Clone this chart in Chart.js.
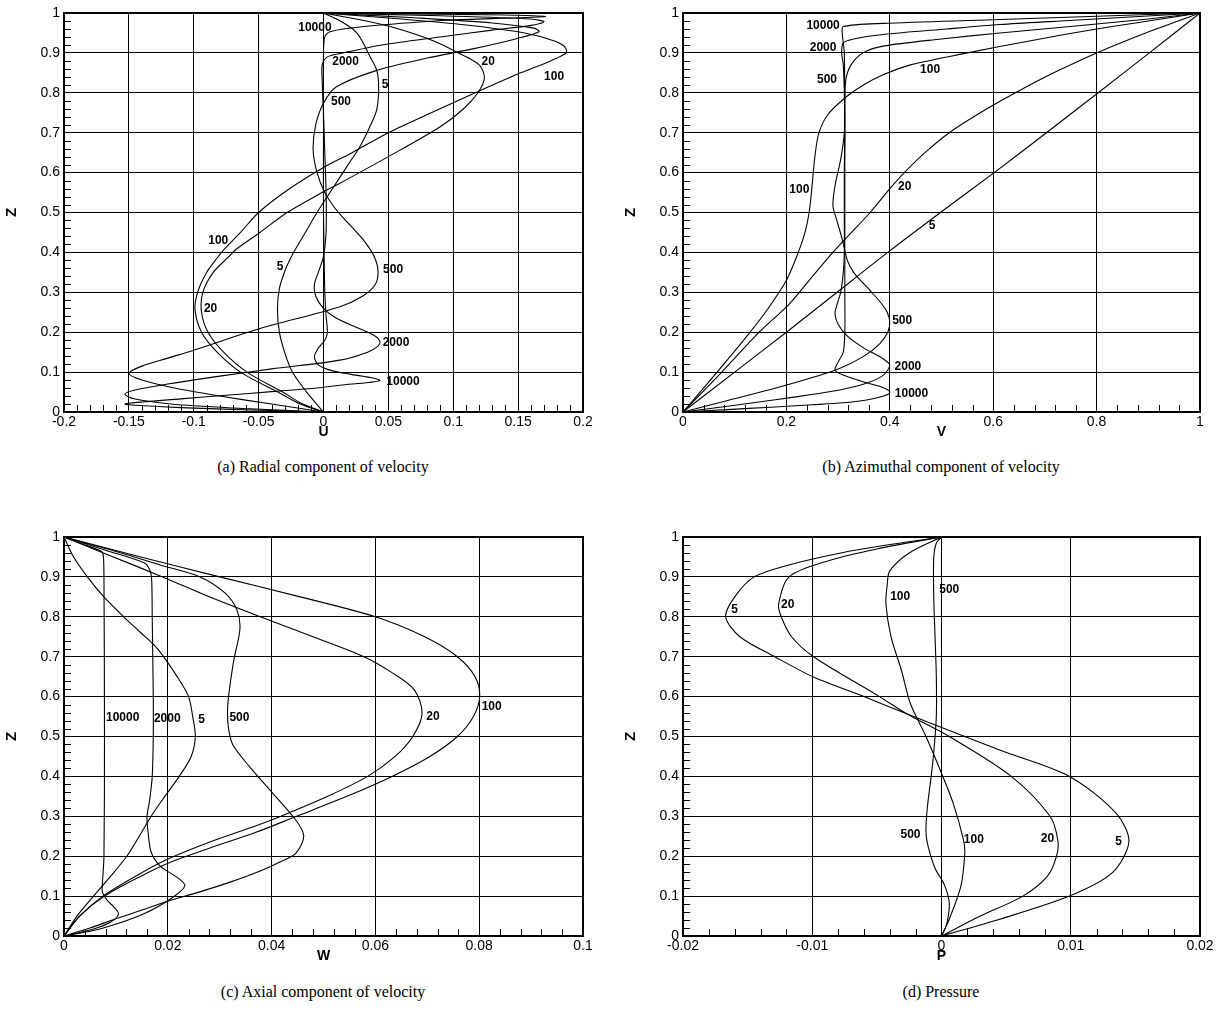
<!DOCTYPE html>
<html>
<head>
<meta charset="utf-8">
<script src="https://cdn.jsdelivr.net/npm/chart.js@4.4.0/dist/chart.umd.min.js"></script>
<style>
body { margin: 0; background: #fff; }
#wrap { position: relative; width: 1224px; height: 1030px; }
canvas { position: absolute; }
.cap { position: absolute; width: 612px; text-align: center; font-family: 'Liberation Serif', 'Times New Roman', serif; font-size: 16px; color: #000; line-height: 20px; }
</style>
</head>
<body>
<div id="wrap">
  <canvas id="chartA" width="612" height="445" style="left:0;top:0"></canvas>
  <canvas id="chartB" width="605" height="445" style="left:619px;top:0"></canvas>
  <canvas id="chartC" width="612" height="445" style="left:0;top:524px"></canvas>
  <canvas id="chartD" width="605" height="445" style="left:619px;top:524px"></canvas>
  <div class="cap" style="left:17px;top:457px">(a) Radial component of velocity</div>
  <div class="cap" style="left:635px;top:457px">(b) Azimuthal component of velocity</div>
  <div class="cap" style="left:17px;top:982px">(c) Axial component of velocity</div>
  <div class="cap" style="left:635px;top:982px">(d) Pressure</div>
</div>
<script>
// tick labels
var zTicks = ['0', '0.1', '0.2', '0.3', '0.4', '0.5', '0.6', '0.7', '0.8', '0.9', '1'];
var uTicks = ['-0.2', '-0.15', '-0.1', '-0.05', '0', '0.05', '0.1', '0.15', '0.2'];
var vTicks = ['0', '0.2', '0.4', '0.6', '0.8', '1'];
var wTicks = ['0', '0.02', '0.04', '0.06', '0.08', '0.1'];
var pTicks = ['-0.02', '-0.01', '0', '0.01', '0.02'];

// (a) radial velocity U, pairs of [U, Z]
var u_re5 = [[0,0],[-0.013,0.05],[-0.024,0.1],[-0.03,0.15],[-0.034,0.2],[-0.0355,0.256],[-0.034,0.31],[-0.029,0.36],[-0.026,0.381],[-0.022,0.406],[-0.014,0.45],[-0.005,0.5],[0.003,0.54],[0.011,0.58],[0.019,0.62],[0.028,0.665],[0.035,0.71],[0.041,0.757],[0.0425,0.815],[0.041,0.857],[0.036,0.89],[0.026,0.949],[0.013,0.98],[0,1]];
var u_re20 = [[0,0],[-0.016,0.02],[-0.03,0.047],[-0.059,0.1],[-0.077,0.15],[-0.089,0.2],[-0.094,0.25],[-0.093,0.3],[-0.085,0.35],[-0.074,0.386],[-0.068,0.406],[-0.049,0.45],[-0.028,0.5],[0,0.552],[0.0102,0.569],[0.05,0.64],[0.09,0.715],[0.108,0.76],[0.119,0.8],[0.124,0.837],[0.12,0.87],[0.104,0.9],[0.085,0.93],[0.058,0.96],[0.033,0.98],[0,1]];
var u_re100 = [[0,0],[-0.018,0.02],[-0.0335,0.047],[-0.064,0.1],[-0.082,0.15],[-0.094,0.2],[-0.099,0.256],[-0.097,0.3],[-0.09,0.35],[-0.082,0.386],[-0.077,0.406],[-0.064,0.45],[-0.05,0.5],[-0.026,0.56],[0,0.613],[0.022,0.65],[0.05,0.7],[0.083,0.75],[0.117,0.8],[0.152,0.85],[0.175,0.88],[0.187,0.9],[0.186,0.915],[0.178,0.93],[0.155,0.95],[0.11,0.97],[0.06,0.985],[0,1]];
var u_re500 = [[0,0],[-0.04,0.02],[-0.08,0.04],[-0.115,0.06],[-0.14,0.08],[-0.15,0.097],[-0.14,0.115],[-0.12,0.135],[-0.1,0.155],[-0.05,0.208],[0.0127,0.264],[0.03,0.29],[0.04,0.32],[0.042,0.355],[0.039,0.39],[0.031,0.43],[0.02,0.47],[0.009,0.51],[0.001,0.55],[-0.005,0.6],[-0.008,0.657],[-0.006,0.72],[0,0.774],[0.01,0.815],[0.04,0.855],[0.08,0.887],[0.115,0.91],[0.148,0.935],[0.166,0.953],[0.162,0.962],[0.13,0.975],[0.07,0.988],[0,1]];
var u_re2000 = [[0,0],[-0.07,0.01],[-0.118,0.02],[-0.146,0.033],[-0.153,0.045],[-0.145,0.055],[-0.12,0.07],[-0.08,0.09],[-0.04,0.108],[0.0127,0.13],[0.034,0.15],[0.042,0.165],[0.0435,0.177],[0.04,0.19],[0.027,0.21],[0.01,0.235],[0,0.26],[-0.006,0.29],[-0.007,0.32],[-0.004,0.35],[0,0.39],[0.002,0.45],[0.002,0.55],[0.001,0.65],[0,0.75],[-0.001,0.83],[-0.001,0.87],[0.003,0.89],[0.015,0.9],[0.045,0.92],[0.09,0.94],[0.13,0.957],[0.16,0.969],[0.17,0.978],[0.16,0.985],[0.09,0.993],[0,1]];
var u_re10000 = [[0,0],[-0.055,0.005],[-0.11,0.011],[-0.145,0.017],[-0.153,0.02],[-0.14,0.025],[-0.11,0.033],[-0.075,0.042],[-0.04,0.051],[-0.005,0.06],[0.0127,0.067],[0.035,0.074],[0.0435,0.079],[0.037,0.086],[0.02,0.095],[0.005,0.105],[-0.004,0.118],[-0.007,0.139],[-0.004,0.16],[0.001,0.18],[0.003,0.2],[0.002,0.24],[0.001,0.3],[0,0.5],[0,0.7],[0,0.9],[0.001,0.94],[0.005,0.953],[0.02,0.962],[0.044,0.97],[0.095,0.982],[0.15,0.988],[0.171,0.991],[0.14,0.995],[0,1]];

// (b) azimuthal velocity V, pairs of [V, Z]
var v_re5 = [[0,0],[0.1,0.1],[0.2,0.2],[0.298,0.3],[0.396,0.4],[0.498,0.5],[0.602,0.6],[0.703,0.7],[0.803,0.8],[0.902,0.9],[1,1]];
var v_re20 = [[0,0],[0.075,0.1],[0.145,0.197],[0.205,0.27],[0.244,0.33],[0.29,0.4],[0.326,0.45],[0.362,0.5],[0.403,0.564],[0.428,0.6],[0.468,0.65],[0.515,0.7],[0.575,0.75],[0.643,0.8],[0.717,0.85],[0.8,0.9],[0.895,0.95],[1,1]];
var v_re100 = [[0,0],[0.066,0.1],[0.128,0.197],[0.165,0.26],[0.2,0.33],[0.223,0.4],[0.236,0.45],[0.244,0.5],[0.249,0.558],[0.252,0.6],[0.256,0.65],[0.263,0.7],[0.28,0.745],[0.316,0.79],[0.35,0.82],[0.387,0.845],[0.44,0.87],[0.55,0.9],[0.67,0.93],[0.8,0.96],[0.9,0.98],[1,1]];
var v_re500 = [[0,0],[0.09,0.03],[0.18,0.06],[0.26,0.09],[0.305,0.11],[0.35,0.14],[0.38,0.17],[0.396,0.2],[0.4,0.225],[0.395,0.25],[0.385,0.27],[0.365,0.3],[0.347,0.325],[0.33,0.35],[0.318,0.38],[0.308,0.433],[0.297,0.483],[0.29,0.517],[0.294,0.567],[0.305,0.633],[0.312,0.7],[0.313,0.78],[0.315,0.833],[0.325,0.87],[0.348,0.9],[0.387,0.917],[0.5,0.935],[0.613,0.95],[0.78,0.97],[0.9,0.985],[1,1]];
var v_re2000 = [[0,0],[0.09,0.015],[0.175,0.03],[0.255,0.045],[0.31,0.057],[0.35,0.07],[0.385,0.09],[0.4,0.117],[0.385,0.135],[0.35,0.16],[0.318,0.19],[0.3,0.22],[0.294,0.246],[0.298,0.27],[0.305,0.3],[0.31,0.35],[0.312,0.4],[0.312,0.5],[0.312,0.6],[0.313,0.7],[0.312,0.8],[0.31,0.87],[0.307,0.9],[0.31,0.925],[0.33,0.935],[0.387,0.946],[0.51,0.96],[0.613,0.971],[0.73,0.98],[0.865,0.99],[1,1]];
var v_re10000 = [[0,0],[0.085,0.006],[0.17,0.012],[0.25,0.018],[0.31,0.023],[0.355,0.03],[0.388,0.04],[0.4,0.05],[0.385,0.062],[0.35,0.075],[0.315,0.09],[0.298,0.1],[0.294,0.108],[0.3,0.125],[0.31,0.15],[0.313,0.2],[0.313,0.3],[0.313,0.5],[0.313,0.7],[0.312,0.9],[0.308,0.95],[0.31,0.966],[0.387,0.974],[0.6,0.983],[0.8,0.992],[1,1]];

// (c) axial velocity W, pairs of [W, Z]
var w_re5 = [[0,0],[0.0025,0.05],[0.0057,0.1],[0.009,0.15],[0.0121,0.2],[0.0145,0.25],[0.0168,0.3],[0.019,0.342],[0.0222,0.4],[0.0245,0.45],[0.0253,0.5],[0.0248,0.55],[0.024,0.6],[0.0218,0.65],[0.018,0.72],[0.0148,0.76],[0.0115,0.8],[0.0076,0.851],[0.0045,0.9],[0.0018,0.951],[0,1]];
var w_re20 = [[0,0],[0.003,0.05],[0.0075,0.1],[0.0138,0.15],[0.0195,0.19],[0.029,0.24],[0.0378,0.28],[0.0418,0.3],[0.0508,0.35],[0.0585,0.4],[0.0638,0.45],[0.0672,0.5],[0.069,0.558],[0.0675,0.617],[0.0632,0.66],[0.0578,0.7],[0.048,0.75],[0.0378,0.8],[0.028,0.85],[0.019,0.9],[0.0095,0.95],[0,1]];
var w_re100 = [[0,0],[0.003,0.05],[0.0078,0.1],[0.0148,0.15],[0.0205,0.185],[0.028,0.22],[0.037,0.26],[0.0448,0.3],[0.0545,0.35],[0.0632,0.4],[0.0705,0.45],[0.0758,0.5],[0.0789,0.55],[0.0801,0.6],[0.0792,0.65],[0.0758,0.7],[0.0695,0.75],[0.06,0.8],[0.0455,0.85],[0.03,0.9],[0.0148,0.95],[0,1]];
var w_re500 = [[0,0],[0.005,0.02],[0.01,0.043],[0.015,0.065],[0.02,0.087],[0.026,0.11],[0.032,0.135],[0.0378,0.163],[0.0415,0.185],[0.0447,0.208],[0.0462,0.25],[0.0447,0.29],[0.0402,0.358],[0.0357,0.425],[0.0325,0.48],[0.0317,0.52],[0.0315,0.56],[0.0317,0.6],[0.0327,0.69],[0.0339,0.77],[0.0333,0.818],[0.031,0.86],[0.0262,0.9],[0.0185,0.93],[0.011,0.96],[0,1]];
var w_re2000 = [[0,0],[0.0069,0.0175],[0.0153,0.055],[0.021,0.097],[0.0233,0.126],[0.022,0.145],[0.0185,0.176],[0.0168,0.21],[0.0162,0.26],[0.016,0.3],[0.0165,0.34],[0.017,0.4],[0.0172,0.5],[0.0172,0.6],[0.0171,0.7],[0.017,0.8],[0.0169,0.89],[0.0166,0.915],[0.0155,0.935],[0.008,0.967],[0,1]];
var w_re10000 = [[0,0],[0.0057,0.0175],[0.009,0.035],[0.0105,0.055],[0.0098,0.07],[0.0083,0.09],[0.0074,0.11],[0.0074,0.13],[0.0077,0.2],[0.0078,0.5],[0.0077,0.9],[0.0076,0.95],[0.0073,0.963],[0.0037,0.982],[0,1]];

// (d) pressure P, pairs of [P, Z]
var p_re5 = [[0,0],[0.0045,0.042],[0.0099,0.1],[0.0132,0.158],[0.0145,0.237],[0.0135,0.308],[0.0099,0.4],[0.0045,0.466],[-0.0027,0.557],[-0.006,0.6],[-0.0099,0.649],[-0.0129,0.7],[-0.0156,0.75],[-0.0167,0.8],[-0.016,0.85],[-0.0145,0.9],[-0.0118,0.93],[-0.0078,0.96],[-0.0042,0.98],[0,1]];
var p_re20 = [[0,0],[0.003,0.05],[0.0063,0.1],[0.0082,0.15],[0.0089,0.2],[0.009,0.24],[0.0084,0.3],[0.0054,0.4],[0.0006,0.5],[-0.0027,0.557],[-0.0048,0.6],[-0.0099,0.7],[-0.0116,0.75],[-0.0124,0.8],[-0.0126,0.832],[-0.0118,0.9],[-0.0088,0.94],[-0.005,0.97],[0,1]];
var p_re100 = [[0,0],[0.0006,0.042],[0.0015,0.125],[0.0018,0.208],[0.0017,0.241],[0.0009,0.333],[0,0.408],[-0.0012,0.5],[-0.0024,0.582],[-0.0031,0.666],[-0.0039,0.749],[-0.0043,0.832],[-0.0042,0.88],[-0.004,0.915],[-0.0025,0.96],[0,1]];
var p_re500 = [[0,0],[0.0004,0.03],[0.0006,0.083],[0.0002,0.13],[-0.0005,0.17],[-0.001,0.22],[-0.0012,0.26],[-0.0011,0.32],[-0.0008,0.4],[-0.0006,0.46],[-0.0004,0.55],[-0.0004,0.65],[-0.0005,0.75],[-0.0006,0.85],[-0.0006,0.95],[-0.0004,0.985],[0,1]];

// curve labels: [text, value, Z]
var uLabels = [['10000',-0.0066,0.962],['2000',0.017,0.878],['20',0.127,0.878],['100',0.1777,0.84],['5',0.0474,0.82],['500',0.0135,0.778],['100',-0.0811,0.429],['5',-0.0335,0.363],['500',0.0536,0.356],['20',-0.087,0.258],['2000',0.0559,0.173],['10000',0.0613,0.075]];
var vLabels = [['10000',0.271,0.967],['2000',0.271,0.912],['500',0.2785,0.833],['100',0.478,0.858],['100',0.225,0.558],['20',0.429,0.564],['5',0.482,0.467],['500',0.424,0.229],['2000',0.435,0.114],['10000',0.442,0.047]];
var wLabels = [['10000',0.0113,0.546],['2000',0.0199,0.544],['5',0.0265,0.542],['500',0.0338,0.546],['20',0.0711,0.55],['100',0.0824,0.575]];
var pLabels = [['5',-0.016,0.819],['20',-0.0119,0.83],['100',-0.0032,0.85],['500',0.0006,0.868],['500',-0.0024,0.254],['100',0.0025,0.241],['20',0.0082,0.245],['5',0.0137,0.237]];

Chart.defaults.font.family = "'Liberation Sans', Arial, sans-serif";
Chart.defaults.font.size = 14;
Chart.defaults.color = '#000';

function makeChart(id, axis, series, labels) {
    var canvas = document.getElementById(id);
    var datasets = series.map(function(s) {
        return {
            data: s.map(function(p) { return {x: p[0], y: p[1]}; }),
            showLine: true,
            borderColor: '#000',
            borderWidth: 1.1,
            pointRadius: 0,
            tension: 0.3,
            fill: false
        };
    });

    // minor ticks inside the frame, frame border and curve labels
    var decor = {
        id: 'decor_' + id,
        afterDatasetsDraw: function(chart) {
            var ctx = chart.ctx, a = chart.chartArea;
            var xs = chart.scales.x, ys = chart.scales.y;
            ctx.save();
            ctx.strokeStyle = '#000';
            ctx.lineWidth = 1;
            ctx.beginPath();
            var n = Math.round((axis.max - axis.min) / axis.minor);
            var per = Math.round(axis.step / axis.minor);
            for (var i = 1; i < n; i++) {
                if (i % per === 0) continue;
                var px = Math.round(xs.getPixelForValue(axis.min + i * axis.minor)) + 0.5;
                ctx.moveTo(px, a.bottom);
                ctx.lineTo(px, a.bottom - 7);
            }
            for (var j = 1; j < 50; j++) {
                if (j % 5 === 0) continue;
                var py = Math.round(ys.getPixelForValue(j * 0.02)) + 0.5;
                ctx.moveTo(a.left, py);
                ctx.lineTo(a.left + 7, py);
            }
            ctx.stroke();
            ctx.lineWidth = 2;
            ctx.strokeRect(a.left, a.top, a.right - a.left, a.bottom - a.top);

            ctx.fillStyle = '#000';
            ctx.font = "bold 12px 'Liberation Sans', Arial, sans-serif";
            ctx.textAlign = 'center';
            ctx.textBaseline = 'middle';
            labels.forEach(function(l) {
                ctx.fillText(l[0], xs.getPixelForValue(l[1]), ys.getPixelForValue(l[2]));
            });
            ctx.restore();
        }
    };

    return new Chart(canvas, {
        type: 'scatter',
        data: { datasets: datasets },
        options: {
            responsive: false,
            animation: false,
            devicePixelRatio: 1,
            layout: { padding: { top: 13, right: axis.padRight, bottom: 0, left: 0 } },
            plugins: { legend: { display: false }, tooltip: { enabled: false } },
            scales: {
                x: {
                    type: 'linear',
                    min: axis.min,
                    max: axis.max,
                    afterFit: function(s) { s.height = 33; },
                    grid: { color: '#000', lineWidth: 1, drawTicks: false },
                    border: { color: '#000', width: 2 },
                    ticks: {
                        stepSize: axis.step,
                        padding: 2,
                        autoSkip: false,
                        maxRotation: 0,
                        callback: function(v, i) { return axis.ticks[i]; }
                    },
                    title: { display: true, text: axis.title, font: { weight: 'bold', size: 14 }, padding: { top: 0, bottom: 4 } }
                },
                y: {
                    type: 'linear',
                    min: 0,
                    max: 1,
                    afterFit: function(s) { s.width = 64; },
                    grid: { color: '#000', lineWidth: 1, drawTicks: false },
                    border: { color: '#000', width: 2 },
                    ticks: {
                        stepSize: 0.1,
                        padding: 4,
                        autoSkip: false,
                        callback: function(v, i) { return zTicks[i]; }
                    },
                    title: { display: true, text: 'Z', font: { weight: 'bold', size: 15 }, padding: { top: 3, bottom: 0 } }
                }
            }
        },
        plugins: [decor]
    });
}

makeChart('chartA', { min: -0.2, max: 0.2, step: 0.05, minor: 0.01, ticks: uTicks, title: 'U', padRight: 29 },
    [u_re5, u_re20, u_re100, u_re500, u_re2000, u_re10000], uLabels);
makeChart('chartB', { min: 0, max: 1, step: 0.2, minor: 0.04, ticks: vTicks, title: 'V', padRight: 24 },
    [v_re5, v_re20, v_re100, v_re500, v_re2000, v_re10000], vLabels);
makeChart('chartC', { min: 0, max: 0.1, step: 0.02, minor: 0.004, ticks: wTicks, title: 'W', padRight: 29 },
    [w_re5, w_re20, w_re100, w_re500, w_re2000, w_re10000], wLabels);
makeChart('chartD', { min: -0.02, max: 0.02, step: 0.01, minor: 0.002, ticks: pTicks, title: 'P', padRight: 24 },
    [p_re5, p_re20, p_re100, p_re500], pLabels);
</script>
</body>
</html>
